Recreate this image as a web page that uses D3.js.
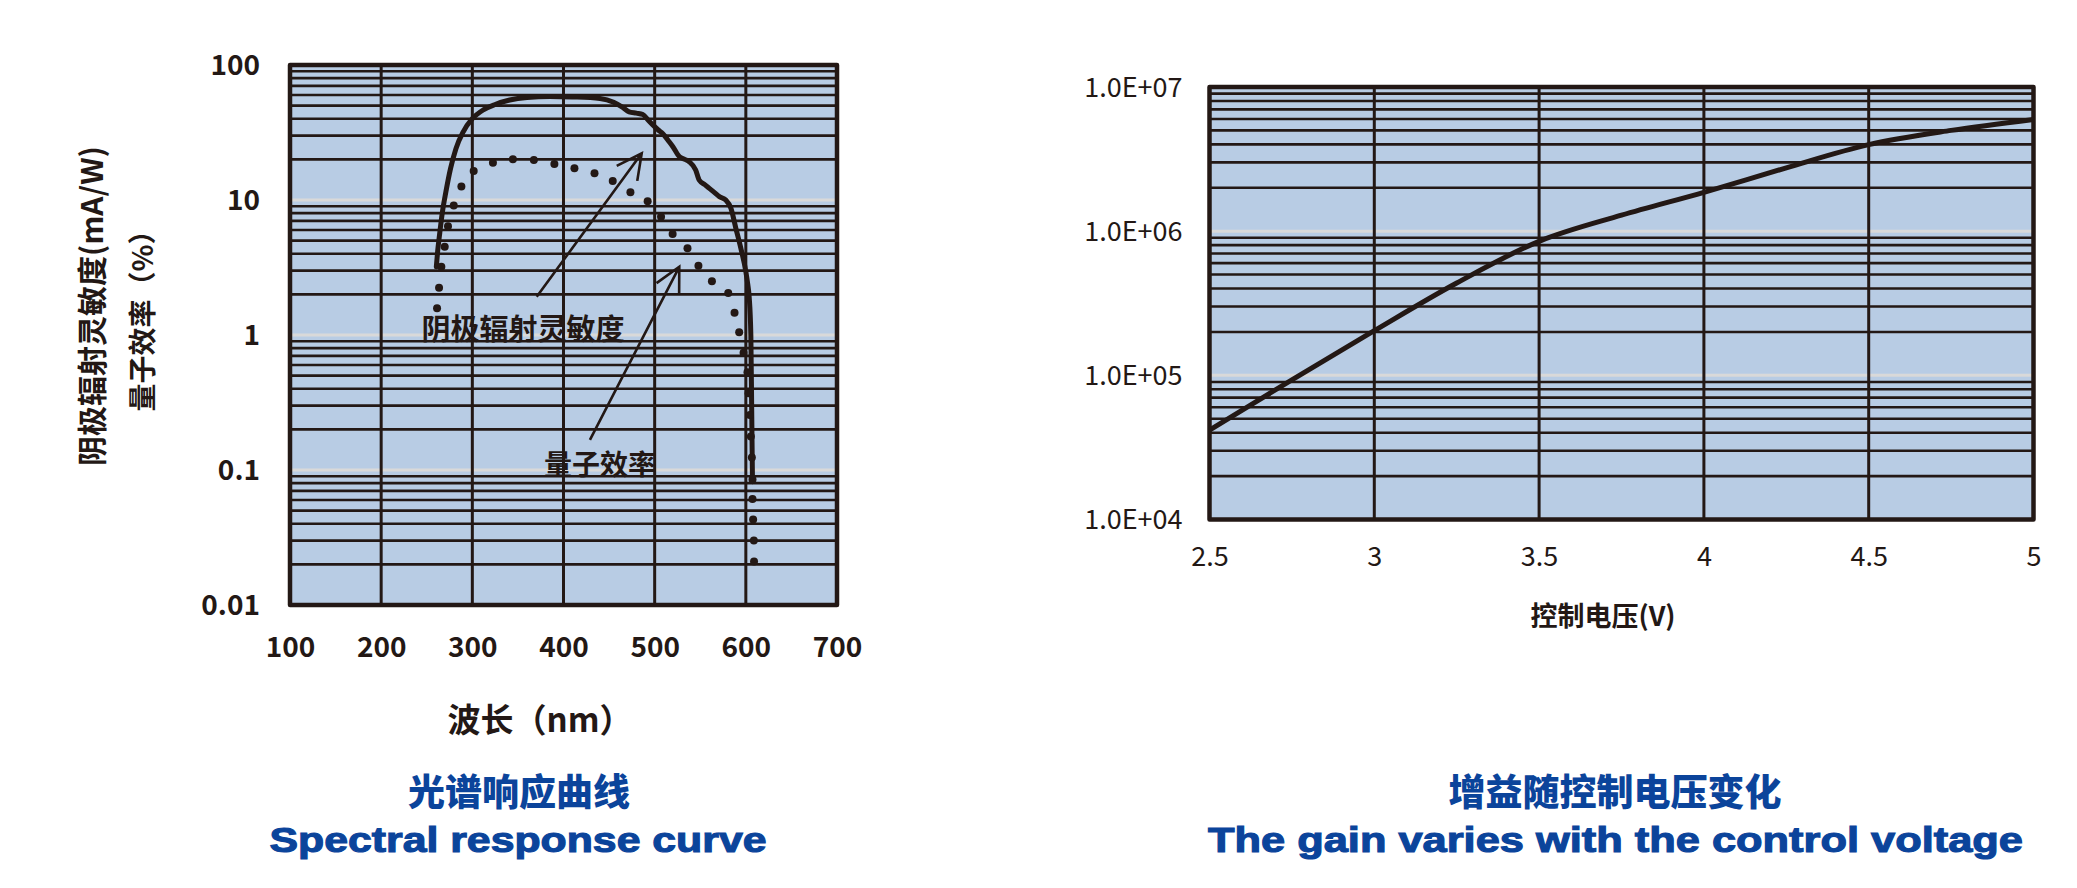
<!DOCTYPE html>
<html><head><meta charset="utf-8">
<script src="https://cdn.jsdelivr.net/npm/d3@7"></script>
<style>body{margin:0;background:#fff;} svg{display:block}</style>
</head><body>
<svg id="c" width="2077" height="888"></svg>
<script>
// ---------- data ----------
const wavelengthTicks = [100, 200, 300, 400, 500, 600, 700];
const sensitivityTicks = [100, 10, 1, 0.1, 0.01];
const sensitivityTickLabels = ["100", "10", "1", "0.1", "0.01"];
// cathode radiant sensitivity (mA/W) vs wavelength (nm)
const cathodeSensitivity = [
  [260.5,3.2],[262,4.2],[264,5.5],[267,8],[271,11.5],[276,17],[282,24],[290,32],[300,40],
  [312,46.5],[325,51],[341,55],[360,57.5],[385,58.5],[410,58],[440,56.5],[455,53],[465,48.5],
  [472,45],[480,44],[487,43],[493,39],[498,36],[504,33],[509,31],[515,27.5],[520,24.8],[527,21],
  [533,20],[538,19.2],[545,16.7],[549,14],[555,13],[560,12.2],[566,11.3],[571,10.6],[578,10],
  [583.6,8.7],[589,6.2],[594.5,4.4],[600,2.95],[602,2.4],[603.7,1.9],[605.5,1.0],[606.4,0.29],[607.3,0.082]
];
// quantum efficiency (%) vs wavelength (nm)
const quantumEfficiency = [
  [261.3,1.58],[263.5,2.24],[266,3.2],[269.7,4.5],[273.3,6.4],[279.6,9.1],[288,12.6],[301.5,16.4],
  [322.6,18.9],[344.5,20],[367.5,19.8],[390,18.5],[412,17.2],[434,15.8],[454,13.8],[473.4,11.4],
  [492.3,9.8],[507,7.5],[519.7,5.6],[536,4.4],[548,3.26],[562.8,2.5],[580.7,2.05],[587.6,1.46],
  [592.7,1.05],[597.5,0.74],[601.8,0.53],[603,0.37],[604.4,0.255],[605.5,0.177],[606.6,0.124],
  [607.3,0.085],[607.3,0.061],[608,0.043],[608.8,0.030],[609,0.021]
];
const annotationLabels = ["阴极辐射灵敏度", "量子效率"];
const annotationAt = [[355.6, 1.15], [440, 0.113]];
const arrowFrom = [[370.6, 1.92], [429, 0.167]];
const arrowTo = [[485.8, 22.2], [527, 3.2]];

const voltageTicks = [2.5, 3, 3.5, 4, 4.5, 5];
const voltageTickLabels = ["2.5", "3", "3.5", "4", "4.5", "5"];
const gainTicks = [1e7, 1e6, 1e5, 1e4];
const gainTickLabels = ["1.0E+07", "1.0E+06", "1.0E+05", "1.0E+04"];
// gain vs control voltage (V)
const gainCurve = [
  [2.5,4.17e4],[2.75,9.3e4],[3.0,2.04e5],[3.25,4.37e5],[3.5,8.5e5],[3.75,1.29e6],
  [4.0,1.86e6],[4.25,2.75e6],[4.5,3.98e6],[4.75,5.0e6],[5.0,5.96e6]
];

// ---------- style ----------
const DARK = "#231815", BG = "#b8cce4", LIGHT = "#d9d9d9", BLUE = "#0b449b";
const CJK = "'Noto Sans CJK SC','Noto Sans',sans-serif";

const svg = d3.select("#c");

function drawFrame(x, y, xTicks) {
  const [x0, x1] = x.range();
  const [y1, y0] = y.range();
  const g = svg.append("g");
  g.append("rect").attr("x", x0).attr("y", y0).attr("width", x1 - x0).attr("height", y1 - y0).attr("fill", BG);
  const dom = y.domain();
  const lo = Math.round(Math.log10(dom[0])), hi = Math.round(Math.log10(dom[1]));
  const decades = [], minors = [];
  for (let e = lo; e < hi; e++) {
    const d = Math.pow(10, e);
    if (e > lo) decades.push(d);
    for (let k = 2; k <= 9; k++) minors.push(k * d);
  }
  g.selectAll(".dec").data(decades).join("line")
    .attr("x1", x0).attr("x2", x1).attr("y1", d => y(d)).attr("y2", d => y(d))
    .attr("stroke", LIGHT).attr("stroke-width", 3);
  g.selectAll(".min").data(minors).join("line")
    .attr("x1", x0).attr("x2", x1).attr("y1", d => y(d)).attr("y2", d => y(d))
    .attr("stroke", DARK).attr("stroke-width", 2.6);
  g.selectAll(".vert").data(xTicks.slice(1, -1)).join("line")
    .attr("x1", d => x(d)).attr("x2", d => x(d)).attr("y1", y0).attr("y2", y1)
    .attr("stroke", DARK).attr("stroke-width", 3);
  return g;
}
function drawBorder(x, y) {
  const [x0, x1] = x.range();
  const [y1, y0] = y.range();
  svg.append("rect").attr("x", x0).attr("y", y0).attr("width", x1 - x0).attr("height", y1 - y0)
    .attr("fill", "none").attr("stroke", DARK).attr("stroke-width", 4.5).attr("stroke-linejoin", "round");
}

// ================= LEFT CHART =================
const xL = d3.scaleLinear().domain([100, 700]).range([290, 837]);
const yL = d3.scaleLog().domain([0.01, 100]).range([605, 65]);
drawFrame(xL, yL, wavelengthTicks);

svg.append("path").datum(cathodeSensitivity)
  .attr("d", d3.line().x(d => xL(d[0])).y(d => yL(d[1])).curve(d3.curveMonotoneX))
  .attr("fill", "none").attr("stroke", DARK).attr("stroke-width", 5)
  .attr("stroke-linejoin", "round").attr("stroke-linecap", "round");
svg.selectAll(".qe").data(quantumEfficiency).join("circle")
  .attr("cx", d => xL(d[0])).attr("cy", d => yL(d[1])).attr("r", 4).attr("fill", DARK);

arrowFrom.forEach((f, i) => {
  const t = arrowTo[i];
  const ax = xL(f[0]), ay = yL(f[1]), bx = xL(t[0]), by = yL(t[1]);
  const ang = Math.atan2(ay - by, ax - bx);
  const len = 28, half = 27 * Math.PI / 180;
  const p1 = [bx + len * Math.cos(ang + half), by + len * Math.sin(ang + half)];
  const p2 = [bx + len * Math.cos(ang - half), by + len * Math.sin(ang - half)];
  svg.append("path")
    .attr("d", `M${ax},${ay}L${bx},${by}M${p1[0]},${p1[1]}L${bx},${by}L${p2[0]},${p2[1]}`)
    .attr("fill", "none").attr("stroke", DARK).attr("stroke-width", 2.6).attr("stroke-linejoin", "miter");
});
svg.selectAll(".ann").data(annotationLabels).join("text")
  .attr("x", (d, i) => xL(annotationAt[i][0])).attr("y", (d, i) => yL(annotationAt[i][1]))
  .attr("text-anchor", "middle").attr("dominant-baseline", "central")
  .attr("font-family", CJK).attr("font-weight", 700).attr("font-size", (d, i) => i === 0 ? 29 : 28).attr("fill", DARK)
  .text(d => d);

drawBorder(xL, yL);

const axLy = svg.append("g").attr("transform", "translate(290,0)")
  .call(d3.axisLeft(yL).tickValues(sensitivityTicks).tickFormat((d, i) => sensitivityTickLabels[i]).tickSize(0).tickPadding(30));
axLy.select(".domain").remove();
axLy.selectAll("text").attr("font-family", CJK).attr("font-weight", 700).attr("font-size", 28).attr("fill", DARK).attr("dy", "0.35em");

const axLx = svg.append("g").attr("transform", "translate(0,605)")
  .call(d3.axisBottom(xL).tickValues(wavelengthTicks).tickFormat(d3.format("d")).tickSize(0));
axLx.select(".domain").remove();
axLx.selectAll("text").attr("font-family", CJK).attr("font-weight", 700).attr("font-size", 28).attr("fill", DARK)
  .attr("y", 42).attr("dy", "0.35em");

svg.append("text").attr("transform", "translate(90,306) rotate(-90)")
  .attr("text-anchor", "middle").attr("dominant-baseline", "central")
  .attr("font-family", CJK).attr("font-weight", 700).attr("font-size", 30).attr("fill", DARK)
  .text("阴极辐射灵敏度(mA/W)");
svg.append("text").attr("transform", "translate(141,314) rotate(-90)")
  .attr("text-anchor", "middle").attr("dominant-baseline", "central")
  .attr("font-family", CJK).attr("font-weight", 700).attr("font-size", 28).attr("fill", DARK)
  .text("量子效率（%）");
svg.append("text").attr("x", 540).attr("y", 718)
  .attr("text-anchor", "middle").attr("dominant-baseline", "central")
  .attr("font-family", CJK).attr("font-weight", 700).attr("font-size", 33).attr("fill", DARK)
  .text("波长（nm）");

svg.append("text").attr("x", 519).attr("y", 790)
  .attr("text-anchor", "middle").attr("dominant-baseline", "central")
  .attr("font-family", CJK).attr("font-weight", 900).attr("font-size", 37).attr("fill", BLUE)
  .text("光谱响应曲线");
svg.append("text").attr("x", 518).attr("y", 852)
  .attr("text-anchor", "middle")
  .attr("font-family", "'Liberation Sans',Arial,sans-serif").attr("font-weight", 700).attr("font-size", 35)
  .attr("fill", BLUE).attr("stroke", BLUE).attr("stroke-width", 1.1)
  .attr("textLength", 497).attr("lengthAdjust", "spacingAndGlyphs")
  .text("Spectral response curve");

// ================= RIGHT CHART =================
const xR = d3.scaleLinear().domain([2.5, 5]).range([1209.5, 2033.5]);
const yR = d3.scaleLog().domain([1e4, 1e7]).range([519.5, 87]);
drawFrame(xR, yR, voltageTicks);

svg.append("path").datum(gainCurve)
  .attr("d", d3.line().x(d => xR(d[0])).y(d => yR(d[1])).curve(d3.curveCatmullRom.alpha(0.5)))
  .attr("fill", "none").attr("stroke", DARK).attr("stroke-width", 5)
  .attr("stroke-linejoin", "round");

drawBorder(xR, yR);

const axRy = svg.append("g").attr("transform", "translate(1209.5,0)")
  .call(d3.axisLeft(yR).tickValues(gainTicks).tickFormat((d, i) => gainTickLabels[i]).tickSize(0).tickPadding(27));
axRy.select(".domain").remove();
axRy.selectAll("text").attr("font-family", CJK).attr("font-weight", 400).attr("font-size", 27).attr("fill", DARK).attr("dy", "0.35em");

const axRx = svg.append("g").attr("transform", "translate(0,519.5)")
  .call(d3.axisBottom(xR).tickValues(voltageTicks).tickFormat((d, i) => voltageTickLabels[i]).tickSize(0));
axRx.select(".domain").remove();
axRx.selectAll("text").attr("font-family", CJK).attr("font-weight", 400).attr("font-size", 27).attr("fill", DARK)
  .attr("y", 37).attr("dy", "0.35em");

svg.append("text").attr("x", 1603).attr("y", 614)
  .attr("text-anchor", "middle").attr("dominant-baseline", "central")
  .attr("font-family", CJK).attr("font-weight", 700).attr("font-size", 27).attr("fill", DARK)
  .text("控制电压(V)");

svg.append("text").attr("x", 1615).attr("y", 790)
  .attr("text-anchor", "middle").attr("dominant-baseline", "central")
  .attr("font-family", CJK).attr("font-weight", 900).attr("font-size", 37).attr("fill", BLUE)
  .text("增益随控制电压变化");
svg.append("text").attr("x", 1615.5).attr("y", 852)
  .attr("text-anchor", "middle")
  .attr("font-family", "'Liberation Sans',Arial,sans-serif").attr("font-weight", 700).attr("font-size", 35)
  .attr("fill", BLUE).attr("stroke", BLUE).attr("stroke-width", 1.1)
  .attr("textLength", 815).attr("lengthAdjust", "spacingAndGlyphs")
  .text("The gain varies with the control voltage");
</script>
</body></html>
